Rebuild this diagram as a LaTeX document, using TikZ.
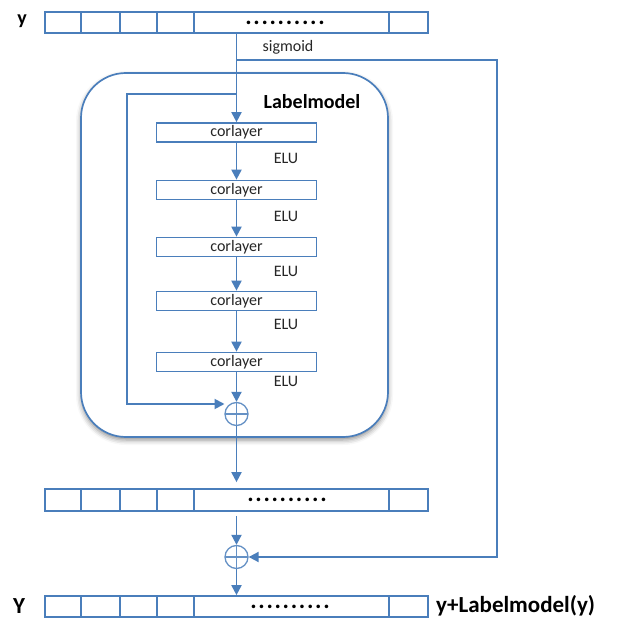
\documentclass[tikz,border=0pt]{standalone}
\usepackage{fontspec}
\setmainfont{Carlito}
\usetikzlibrary{arrows.meta,shadows,shadows.blur,calc}
\definecolor{lb}{HTML}{4A7EBB}
\newcommand{\dotrow}{\textbf{.\kern1.7pt.\kern1.7pt.\kern1.7pt.\kern1.7pt.\kern1.7pt.\kern1.7pt.\kern1.7pt.\kern1.7pt.\kern1.7pt.}}
\begin{document}
\begin{tikzpicture}[x=1pt,y=-1pt,
  line/.style={draw=lb, line width=1.9pt},
  arr/.style={line, -{Triangle[length=10pt,width=10pt]}},
  cellrow/.style={draw=lb, line width=1.7pt, minimum width=383pt, inner sep=0pt},
  divider/.style={draw=lb, line width=1.7pt},
  layer/.style={draw=lb, line width=1.7pt, minimum width=160pt, minimum height=19pt, inner sep=0pt, font=\fontsize{16}{16}\selectfont, text=black!85},
  lbl/.style={font=\fontsize{16}{16}\selectfont, text=black!85, inner sep=0pt},
  big/.style={font=\fontsize{20}{20}\selectfont\bfseries, inner sep=0pt},
  bigger/.style={font=\fontsize{23}{23}\selectfont\bfseries, inner sep=0pt},
  dotsnode/.style={font=\fontsize{24}{24}\selectfont, inner sep=0pt},
  plus/.style={circle, draw=lb!85, line width=1.3pt, minimum size=23pt, inner sep=0pt,
    path picture={\draw[lb!85, line width=1.5pt] (path picture bounding box.north) -- (path picture bounding box.south) (path picture bounding box.west) -- (path picture bounding box.east);}},
]
\useasboundingbox (0,0) rectangle (621,620);

% Labelmodel container
\node[draw=lb, fill=white, line width=1.7pt, rounded corners=45pt, minimum width=307pt, minimum height=364pt,
  blur shadow={shadow xshift=0pt, shadow yshift=-3pt, shadow blur radius=5pt, shadow opacity=45}] (lm) at (234.5,255) {};
\node[big] (lmtxt) at (312,102) {Labelmodel};

% arrays
\node[cellrow, minimum height=21pt] (ytop) at (236.5,22.5) {};
\node[cellrow, minimum height=22pt] (ymid) at (236.5,500) {};
\node[cellrow, minimum height=21pt] (ybot) at (236.5,606.5) {};
\foreach \x in {81,120,157,194,389} {
  \draw[divider] (\x,12) -- (\x,33);
  \draw[divider] (\x,489) -- (\x,511);
  \draw[divider] (\x,596) -- (\x,617);
}
\node[dotsnode] (d1) at (285,23) {\dotrow};
\node[dotsnode] (d2) at (287,500) {\dotrow};
\node[dotsnode] (d3) at (290,607) {\dotrow};

\node[big] (ylab) at (22,21) {y};
\node[bigger] (Ylab) at (19,606) {Y};
\node[bigger, anchor=west] (res) at (436,606) {y+Labelmodel(y)};
\node[lbl] (sig) at (288,47) {sigmoid};

% layers
\node[layer] (c1) at (236.5,132.5) {corlayer};
\node[layer] (c2) at (236.5,190) {corlayer};
\node[layer] (c3) at (236.5,247) {corlayer};
\node[layer] (c4) at (236.5,301) {corlayer};
\node[layer] (c5) at (236.5,362) {corlayer};
\node[lbl] (e1) at (286,158) {ELU};
\node[lbl] (e2) at (286,216) {ELU};
\node[lbl] (e3) at (286,271) {ELU};
\node[lbl] (e4) at (286,324) {ELU};
\node[lbl] (e5) at (286,381) {ELU};

% plus nodes
\node[plus] (p1) at (236.5,414) {};
\node[plus] (p2) at (236.5,557) {};

\coordinate (sg) at (236.5,60);
\coordinate (fb) at (236.5,94);
\coordinate (fbend) at ($(p1.center)+(-12,-10)$);

% connectors
\draw[arr] (ytop.south) -- (c1.north);
\draw[arr] (c1) -- (c2);
\draw[arr] (c2) -- (c3);
\draw[arr] (c3) -- (c4);
\draw[arr] (c4) -- (c5);
\draw[arr] (c5) -- (p1);
\draw[arr] (fb) -- (127,94) -- (127,404) -- (fbend);
\draw[arr, shorten >=6pt] (p1) -- (ymid.north);
\draw[arr, shorten <=4pt] (ymid.south) -- (p2);
\draw[arr] (p2) -- (ybot.north);
\draw[arr] (sg) -- (497,60) -- (497,557) -- (p2.east);
\end{tikzpicture}
\end{document}
